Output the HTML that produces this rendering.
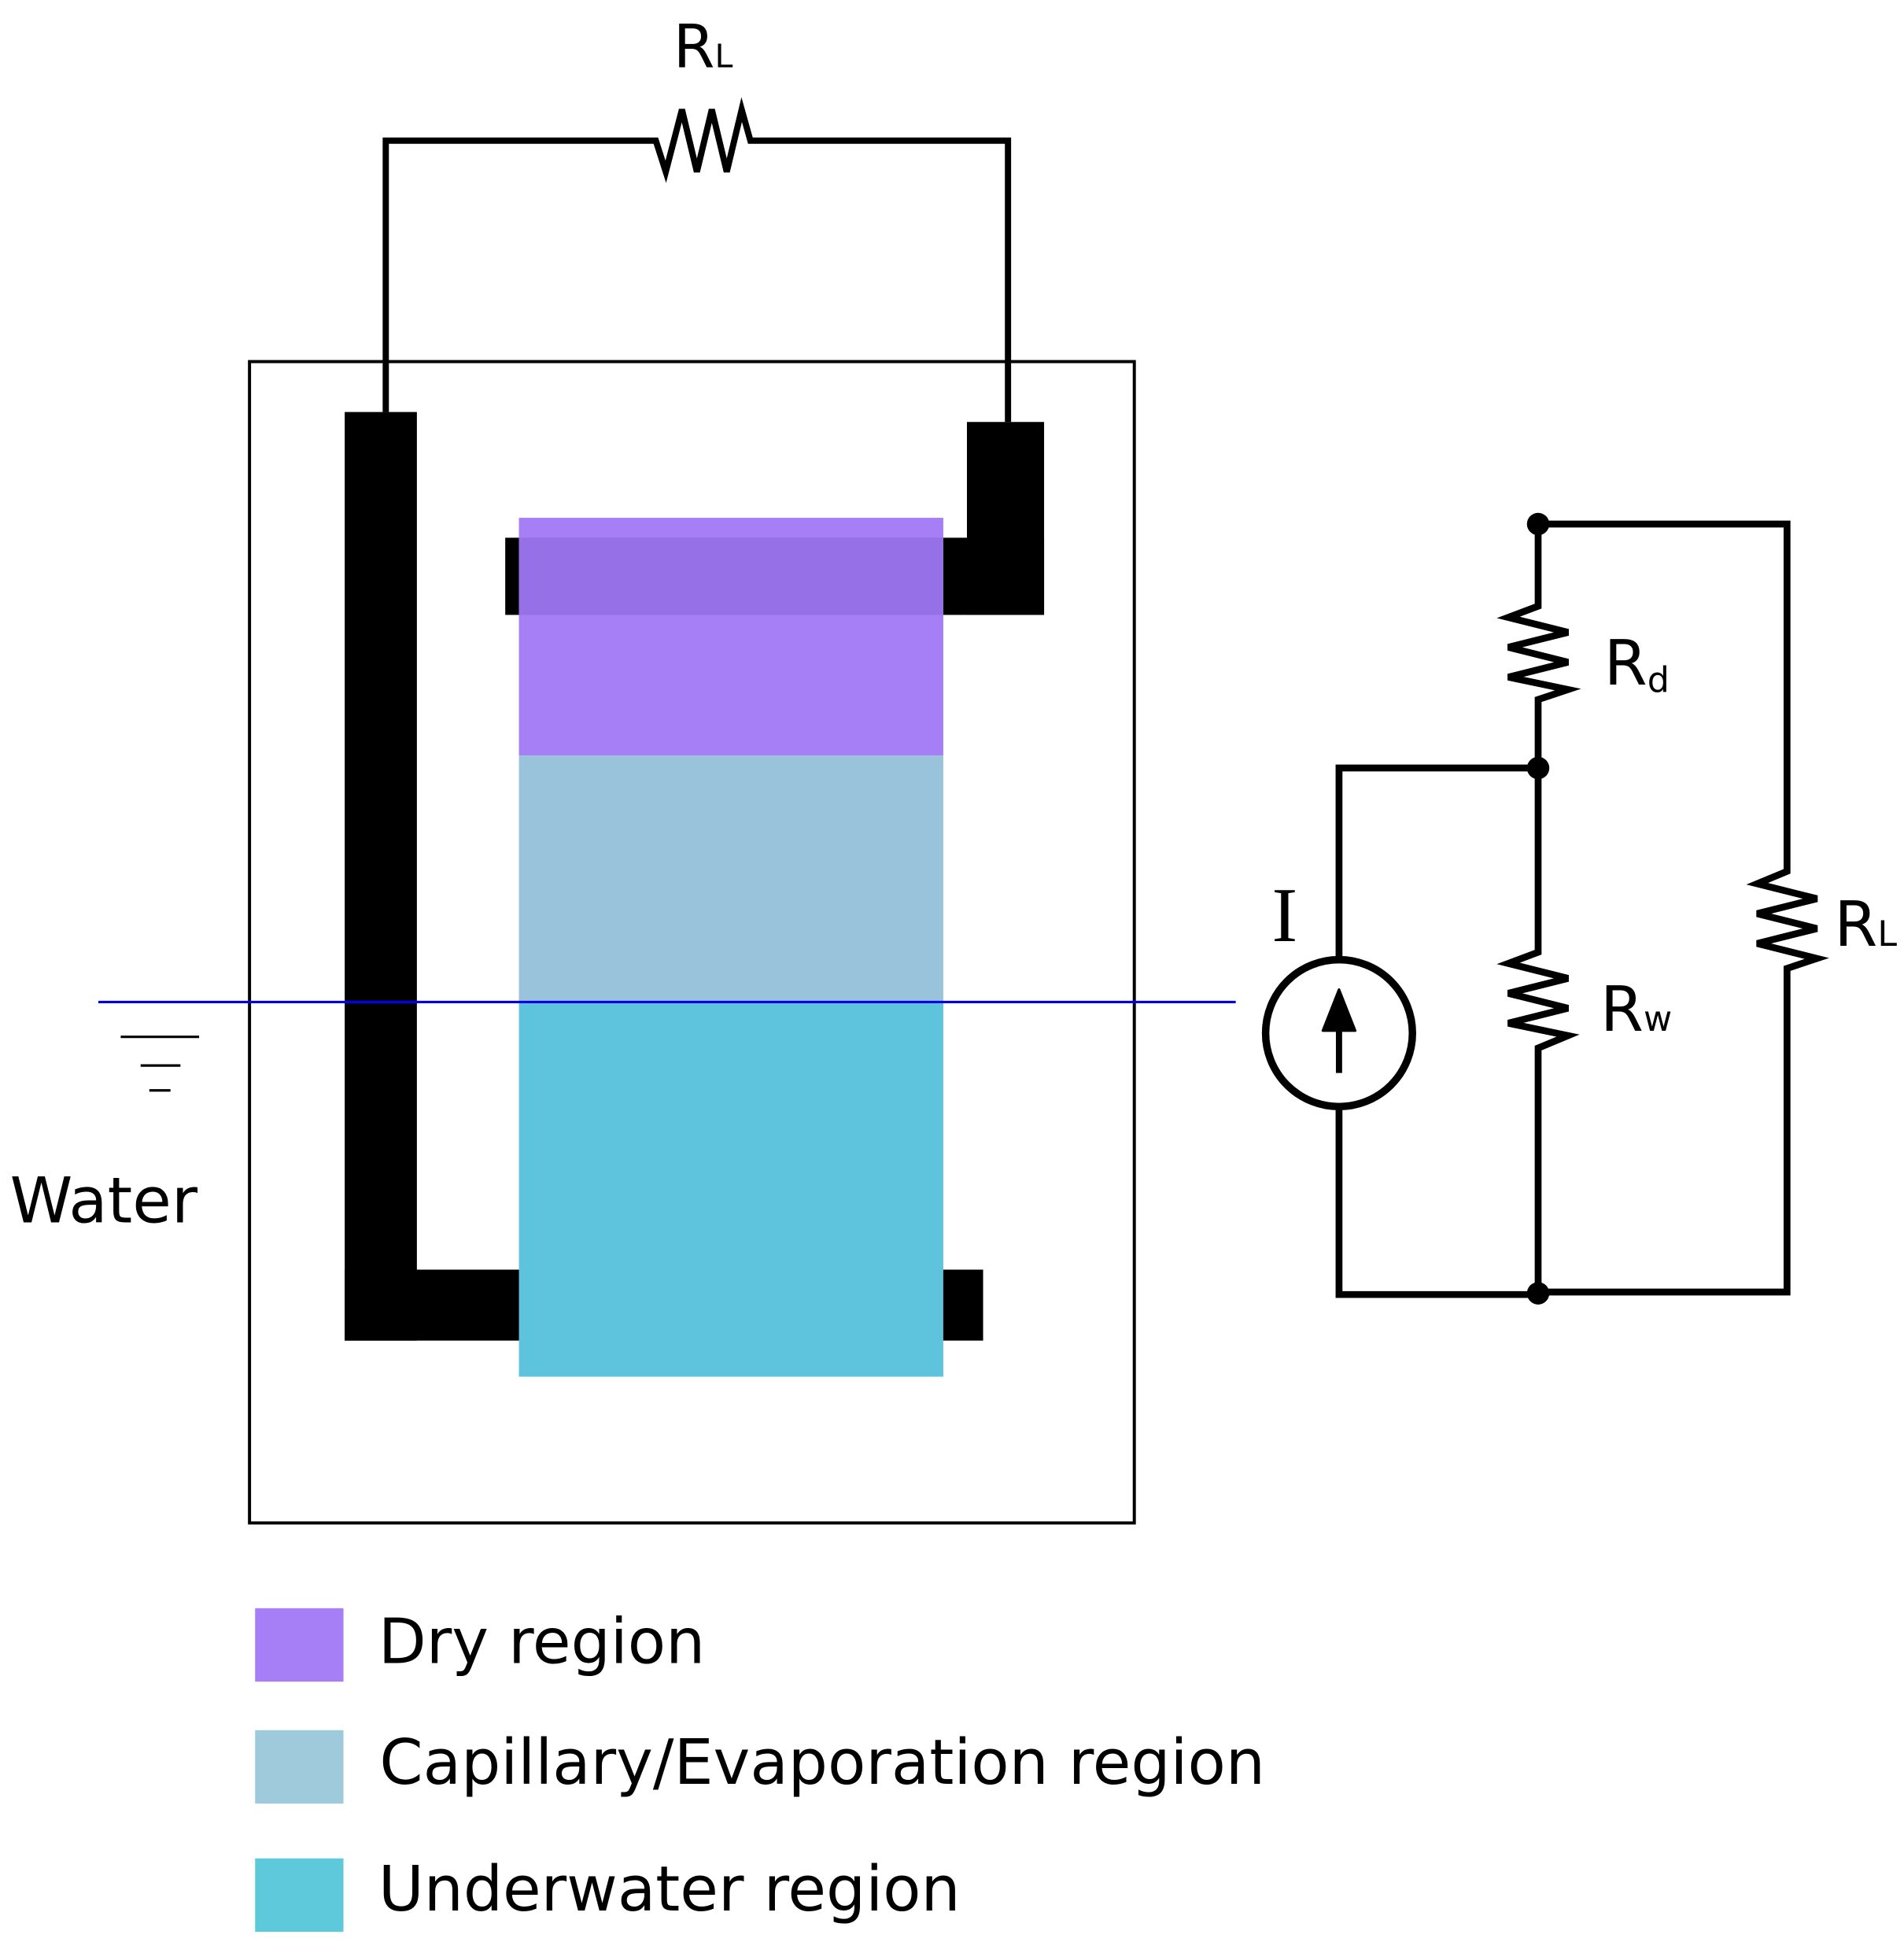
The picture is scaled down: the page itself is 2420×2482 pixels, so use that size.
<!DOCTYPE html>
<html><head><meta charset="utf-8"><style>
html,body{margin:0;padding:0;background:#fff;}
svg{display:block;}
text{font-family:"DejaVu Sans","Liberation Sans",sans-serif;}
</style></head><body>
<svg width="2420" height="2482" viewBox="0 0 1530 1569" preserveAspectRatio="none" xmlns="http://www.w3.org/2000/svg">
<!-- top circuit -->
<polyline points="310,331 310,113 527,113 535,138 548,88 560,138 572,88 584,138 596,88 603,113 810,113 810,339" fill="none" stroke="#000" stroke-width="5" stroke-linejoin="miter"/>
<text x="541" y="54" font-size="48">R<tspan font-size="26">L</tspan></text>
<!-- box -->
<rect x="200.5" y="290.5" width="711" height="933" fill="none" stroke="#000" stroke-width="2.5"/>
<!-- electrodes -->
<rect x="277" y="331" width="58" height="746" fill="#000"/>
<rect x="277" y="1020" width="145" height="57" fill="#000"/>
<rect x="755" y="1020" width="35" height="57" fill="#000"/>
<rect x="777" y="339" width="62" height="155" fill="#000"/>
<rect x="406" y="432" width="433" height="62" fill="#000"/>
<!-- strip -->
<rect x="417" y="416" width="341" height="191" fill="#a67ef5"/>
<rect x="417" y="432" width="341" height="62" fill="#9670e6"/>
<rect x="417" y="607" width="341" height="198" fill="#99c3db"/>
<rect x="417" y="805" width="341" height="301" fill="#5ec3dc"/>
<!-- water line -->
<line x1="79" y1="805" x2="993" y2="805" stroke="#0000ee" stroke-width="2"/>
<line x1="97" y1="833" x2="160" y2="833" stroke="#000" stroke-width="2"/>
<line x1="113" y1="856" x2="145" y2="856" stroke="#000" stroke-width="2"/>
<line x1="120" y1="876" x2="137" y2="876" stroke="#000" stroke-width="2"/>
<text x="8" y="982" font-size="51">Water</text>
<!-- right circuit -->
<g fill="none" stroke="#000" stroke-width="5.5">
<polyline points="1236,421 1436,421 1436,700 1412,710 1460,722 1412,734 1460,746 1412,758 1460,770 1436,778 1436,1038 1236,1038"/>
<polyline points="1236,421 1236,487 1212,496 1260,508 1212,520 1260,532 1212,544 1260,554 1236,562 1236,617"/>
<polyline points="1236,617 1236,765 1212,774 1260,786 1212,798 1260,810 1212,822 1260,832 1236,842 1236,1040"/>
<polyline points="1236,617 1076,617 1076,770"/>
<polyline points="1076,890 1076,1040 1236,1040"/>
<ellipse cx="1076" cy="830" rx="59" ry="59" stroke-width="6"/>
<line x1="1076" y1="862" x2="1076" y2="815" stroke-width="5"/>
</g>
<polygon points="1076,795 1063,828 1089,828" fill="#000" stroke="#000" stroke-width="2" stroke-linejoin="round"/>
<circle cx="1236" cy="421" r="9" fill="#000"/>
<circle cx="1236" cy="617" r="9" fill="#000"/>
<circle cx="1236" cy="1039" r="9" fill="#000"/>
<text x="1289" y="550" font-size="50">R<tspan font-size="28" dy="6">d</tspan></text>
<text x="1286" y="828" font-size="50">R<tspan font-size="28">w</tspan></text>
<text x="1474" y="760" font-size="50">R<tspan font-size="28">L</tspan></text>
<text x="1022" y="756" font-size="62" style="font-family:'Liberation Serif',serif">I</text>
<!-- legend -->
<rect x="205" y="1292" width="71" height="59" fill="#a67ef5"/>
<rect x="205" y="1390" width="71" height="59" fill="#9fcadc"/>
<rect x="205" y="1493" width="71" height="59" fill="#5fc9dc"/>
<text x="304" y="1336" font-size="50">Dry region</text>
<text x="305" y="1433" font-size="50">Capillary/Evaporation region</text>
<text x="304" y="1535" font-size="50">Underwater region</text>
</svg>
</body></html>
